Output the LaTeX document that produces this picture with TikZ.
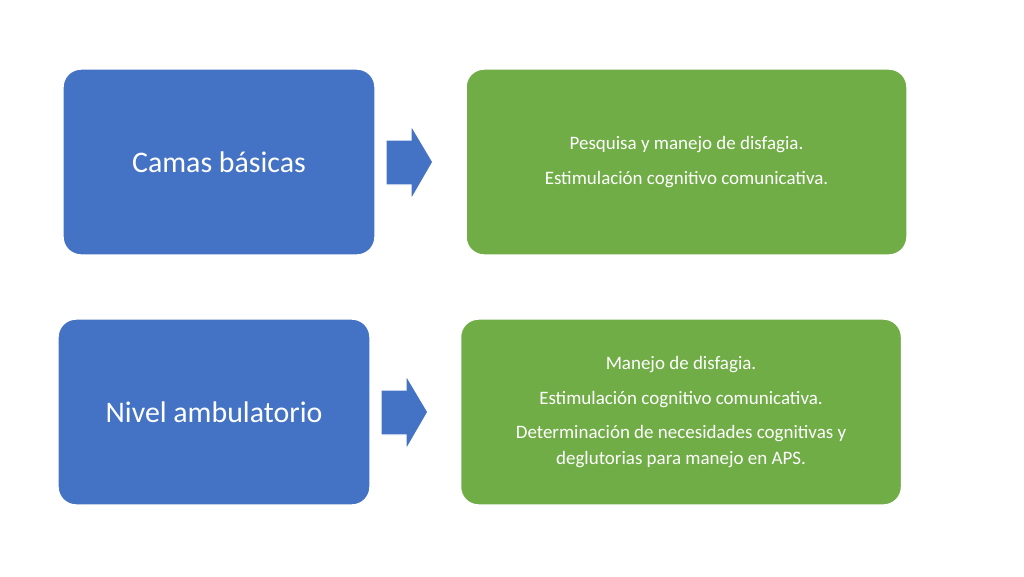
\documentclass[tikz,border=0pt]{standalone}
\usepackage{fontspec}
\setmainfont{Carlito}
\usetikzlibrary{positioning}
\definecolor{boxblue}{HTML}{4472C4}
\definecolor{boxgreen}{HTML}{70AD47}
\tikzset{
  levelbox/.style={draw=white, thick, fill=boxblue, rounded corners=0.36cm, text=white,
    minimum width=6.24cm, minimum height=3.72cm, font=\fontsize{17}{20}\selectfont},
  taskbox/.style={draw=white, thick, fill=boxgreen, rounded corners=0.36cm, text=white,
    minimum width=8.82cm, minimum height=3.72cm, align=center, font=\fontsize{10.8}{14.7}\selectfont},
  fatarrow/.style={fill=boxblue, draw=white, thick}
}
\begin{document}
\begin{tikzpicture}[x=0.02cm, y=-0.02cm]
  \useasboundingbox (0,0) rectangle (1024,576);
  % upper row
  \node[levelbox] (camas) at (219,162) {Camas básicas};
  \node[taskbox] (tareas1) at (686.5,162) {Pesquisa y manejo de disfagia.\\[5pt]
    Estimulación cognitivo comunicativa.};
  % lower row
  \node[levelbox] (nivel) at (214,412) {Nivel ambulatorio};
  \node[taskbox] (tareas2) at (681,412) {Manejo de disfagia.\\[5pt]
    Estimulación cognitivo comunicativa.\\[5pt]
    Determinación de necesidades cognitivas y\\
    deglutorias para manejo en APS.};
  % arrows
  \draw[fatarrow] (386,140) -- (411,140) -- (411,125) -- (433,162) -- (411,200)
    -- (411,185) -- (386,185) -- cycle;
  \draw[fatarrow] (381,390) -- (406,390) -- (406,375) -- (428,412) -- (406,450)
    -- (406,435) -- (381,435) -- cycle;
\end{tikzpicture}
\end{document}
